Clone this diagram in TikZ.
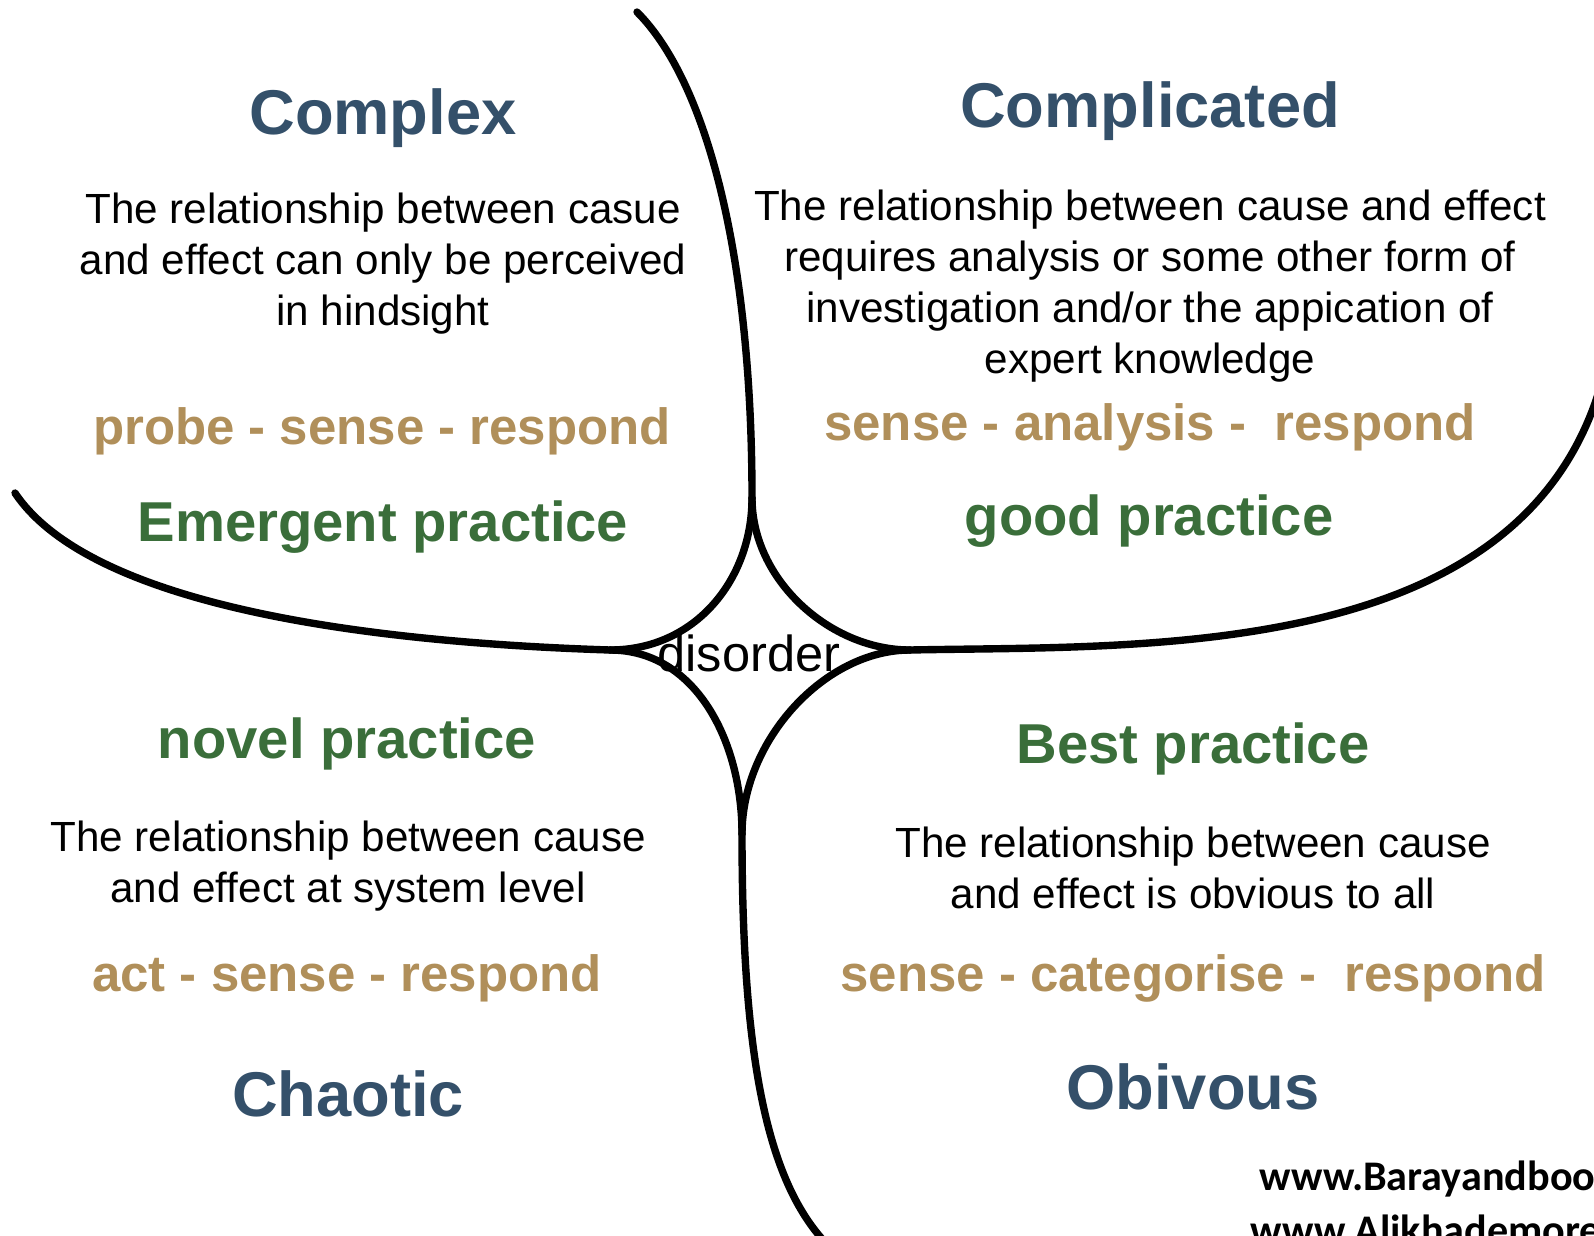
\documentclass[tikz,border=0pt]{standalone}
\usepackage{fontspec}
\setmainfont{Liberation Sans}
\newfontfamily\wmfont{Carlito}
\definecolor{domainblue}{HTML}{34506A}
\definecolor{steptan}{HTML}{B08F5A}
\definecolor{practicegreen}{HTML}{3A6E3A}
\tikzset{
  domainname/.style={font=\fontsize{18}{22}\selectfont\bfseries, text=domainblue},
  relation/.style={font=\fontsize{12}{14.5}\selectfont, align=center},
  steps/.style={font=\fontsize{14.5}{17}\selectfont\bfseries, text=steptan},
  practice/.style={font=\fontsize{16}{19}\selectfont\bfseries, text=practicegreen},
  border/.style={line width=2.1pt, line cap=round},
  website/.style={font=\wmfont\fontsize{12}{14}\selectfont\bfseries, anchor=west, inner sep=0pt},
}
\begin{document}
\begin{tikzpicture}
    \useasboundingbox (0,0) rectangle (15.94,-12.35);
    \clip (0,0) rectangle (15.94,-12.35);

    % star corners
    \coordinate (top) at (7.52,-4.98);
    \coordinate (left) at (6.10,-6.50);
    \coordinate (right) at (9.10,-6.50);
    \coordinate (bottom) at (7.42,-8.34);

    % free ends
    \coordinate (topend) at (6.37,-0.12);
    \coordinate (leftend) at (0.15,-4.93);
    \coordinate (rightend) at (16.10,-3.45);
    \coordinate (bottomend) at (8.23,-12.40);

    % outer lines
    \draw[border] (topend) .. controls (7.05,-0.80) and (7.52,-2.50) .. (top);
    \draw[border] (leftend) .. controls (0.80,-5.90) and (3.00,-6.40) .. (left);
    \draw[border] (right) .. controls (11.50,-6.45) and (15.55,-6.65) .. (rightend);
    \draw[border] (bottom) .. controls (7.42,-10.50) and (7.65,-11.75) .. (bottomend);

    % disorder
    \draw[border] (top) .. controls (7.52,-5.80) and (6.95,-6.50) .. (left);
    \draw[border] (top) .. controls (7.52,-5.80) and (8.30,-6.50) .. (right);
    \draw[border] (left) .. controls (6.95,-6.50) and (7.42,-7.40) .. (bottom);
    \draw[border] (right) .. controls (8.25,-6.50) and (7.42,-7.40) .. (bottom);
    \node[font=\fontsize{14.4}{17}\selectfont] (disorder) at (7.49,-6.53) {disorder};

    % complex
    \node[domainname] (complex) at (3.83,-1.18) {Complex};
    \node[relation] (complexrel) at (3.83,-2.64) {The relationship between casue\\and effect can only be perceived\\in hindsight};
    \node[steps] (complexsteps) at (3.82,-4.31) {probe - sense - respond};
    \node[practice] (emergent) at (3.83,-5.27) {Emergent practice};

    % complicated
    \node[domainname] (complicated) at (11.50,-1.11) {Complicated};
    \node[relation] (complicatedrel) at (11.50,-2.86) {The relationship between cause and effect\\requires analysis or some other form of\\investigation and/or the appication of\\expert knowledge};
    \node[steps] (complicatedsteps) at (11.50,-4.27) {sense - analysis -\ \ respond};
    \node[practice] (good) at (11.49,-5.21) {good practice};

    % chaotic
    \node[practice] (novel) at (3.47,-7.44) {novel practice};
    \node[relation] (chaoticrel) at (3.48,-8.66) {The relationship between cause\\and effect at system level};
    \node[steps] (chaoticsteps) at (3.47,-9.78) {act - sense - respond};
    \node[domainname] (chaotic) at (3.48,-10.94) {Chaotic};

    % obvious
    \node[practice] (best) at (11.93,-7.49) {Best practice};
    \node[relation] (obviousrel) at (11.93,-8.68) {The relationship between cause\\and effect is obvious to all};
    \node[steps] (obvioussteps) at (11.93,-9.78) {sense - categorise -\ \ respond};
    \node[domainname] (obvious) at (11.93,-10.87) {Obivous};

    \node[website] (site1) at (12.59,-11.79) {www.Barayandboo};
    \node[website] (site2) at (12.50,-12.30) {www.Alikhademore};
\end{tikzpicture}
\end{document}
